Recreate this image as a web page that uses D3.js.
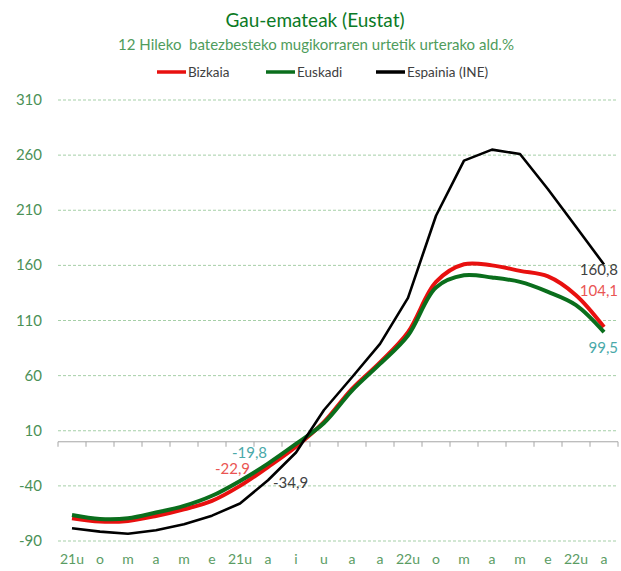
<!DOCTYPE html>
<html>
<head>
<meta charset="utf-8">
<script src="https://cdn.jsdelivr.net/npm/d3@7"></script>
<style>
body { margin: 0; background: #fff; }
svg { font-family: Lato, "Open Sans", sans-serif; }
</style>
</head>
<body>
<div id="chart"></div>
<script>
var months = ["21u","o","m","a","m","e","21u","a","i","u","a","a","22u","o","m","a","m","e","22u","a"]
var bizkaia = [-69.4,-72.4,-71.8,-67.3,-61.2,-53.6,-40,-22.9,-4.5,18,48,72,99.4,145,161,160,155,150,133,104.1]
var euskadi = [-66.4,-70,-69.4,-64.2,-58.2,-49,-35.5,-19.8,-2,17,46.4,70.6,96.4,140,151,149,145,136,124,99.5]
var espainia = [-78.5,-81.5,-83.4,-80.3,-74.8,-67,-56,-34.9,-9.7,28.8,58.5,88.8,130.5,205,255,265,261,229,195,160.8]
var yTicks = [-90,-40,10,60,110,160,210,260,310]

var width = 621, height = 571
var margin = {top: 100, right: 3, bottom: 30, left: 58}

var svg = d3.select("#chart").append("svg")
    .attr("width", width)
    .attr("height", height)

var idx = d3.range(months.length)
var x = d3.scaleBand()
    .domain(idx)
    .range([margin.left, width - margin.right])
var y = d3.scaleLinear()
    .domain([-90, 310])
    .range([541, 100])

// titles
svg.append("text")
    .attr("x", 315).attr("y", 27)
    .attr("text-anchor", "middle")
    .style("font-size", "19px")
    .style("fill", "#0b7a25")
    .text("Gau-emateak (Eustat)")
svg.append("text")
    .attr("x", 316).attr("y", 50)
    .attr("text-anchor", "middle")
    .style("font-size", "15px")
    .style("fill", "#4f9c5c")
    .attr("xml:space", "preserve")
    .text("12 Hileko  batezbesteko mugikorraren urtetik urterako ald.%")

// legend
var series = [
    {name: "Bizkaia", values: bizkaia, color: "#e8100f", width: 4, smooth: true},
    {name: "Euskadi", values: euskadi, color: "#0a6e1c", width: 4, smooth: true},
    {name: "Espainia (INE)", values: espainia, color: "#000000", width: 2.6, smooth: false}
]
var legendX = [157, 266, 376]
var leg = svg.selectAll(".leg").data(series).enter().append("g")
    .attr("transform", function(d, i) { return "translate(" + legendX[i] + ",72)" })
leg.append("line")
    .attr("x1", 0).attr("x2", 29)
    .style("stroke", function(d) { return d.color })
    .style("stroke-width", 3.5)
leg.append("text")
    .attr("x", 31).attr("y", 5)
    .style("font-size", "13.5px")
    .style("fill", "#404040")
    .text(function(d) { return d.name })

// grid + y labels
svg.append("g").selectAll("line").data(yTicks).enter().append("line")
    .attr("x1", margin.left).attr("x2", width - margin.right)
    .attr("y1", function(d) { return y(d) }).attr("y2", function(d) { return y(d) })
    .style("stroke", "#a5cfa7")
    .style("stroke-dasharray", "3,2")
    .style("stroke-width", 1)
svg.append("g").selectAll("text").data(yTicks).enter().append("text")
    .attr("x", 42)
    .attr("y", function(d) { return y(d) + 5 })
    .attr("text-anchor", "end")
    .style("font-size", "15px")
    .style("fill", "#4b9157")
    .text(function(d) { return d })

// axis line at zero with category ticks between bands
var ax = svg.append("g")
ax.append("line")
    .attr("x1", margin.left).attr("x2", width - margin.right)
    .attr("y1", y(0)).attr("y2", y(0))
    .style("stroke", "#a6a6a6")
ax.selectAll(".tk").data(d3.range(months.length + 1)).enter().append("line")
    .attr("x1", function(d) { return d < months.length ? x(d) : x(d - 1) + x.bandwidth() })
    .attr("x2", function(d) { return d < months.length ? x(d) : x(d - 1) + x.bandwidth() })
    .attr("y1", y(0)).attr("y2", y(0) + 5)
    .style("stroke", "#a6a6a6")

// category labels at the bottom
var xAxis = d3.axisBottom(x)
    .tickSize(0)
    .tickPadding(0)
    .tickFormat(function(i) { return months[i] })
var gx = svg.append("g")
    .attr("transform", "translate(0,554)")
    .call(xAxis)
gx.select(".domain").remove()
gx.selectAll("text")
    .style("font-size", "14px")
    .style("font-family", "Lato, sans-serif")
    .style("fill", "#5a9c63")

// lines
series.forEach(function(s) {
    var line = d3.line()
        .x(function(d, i) { return x(i) + x.bandwidth() / 2 })
        .y(function(d) { return y(d) })
        .curve(s.smooth ? d3.curveCatmullRom.alpha(0.5) : d3.curveLinear)
    svg.append("path")
        .datum(s.values)
        .attr("d", line)
        .style("fill", "none")
        .style("stroke", s.color)
        .style("stroke-width", s.width)
        .style("stroke-linejoin", "round")
})

// data labels
var cx = function(i) { return x(i) + x.bandwidth() / 2 }
var labels = [
    {v: euskadi[7], i: 7, dx: -1, dy: -6, anchor: "end", color: "#4aa9a9"},
    {v: bizkaia[7], i: 7, dx: -18, dy: 7, anchor: "end", color: "#ea5553"},
    {v: espainia[7], i: 7, dx: 5, dy: 8, anchor: "start", color: "#404040"},
    {v: espainia[19], i: 19, dx: 14, dy: 11, anchor: "end", color: "#404040"},
    {v: bizkaia[19], i: 19, dx: 14, dy: -31, anchor: "end", color: "#ea5553"},
    {v: euskadi[19], i: 19, dx: 14, dy: 21, anchor: "end", color: "#4aa9a9"}
]
svg.append("g").selectAll("text").data(labels).enter().append("text")
    .attr("x", function(d) { return cx(d.i) + d.dx })
    .attr("y", function(d) { return y(d.v) + d.dy })
    .attr("text-anchor", function(d) { return d.anchor })
    .style("font-size", "15px")
    .style("fill", function(d) { return d.color })
    .text(function(d) { return d.v.toFixed(1).replace(".", ",") })
</script>
</body>
</html>
